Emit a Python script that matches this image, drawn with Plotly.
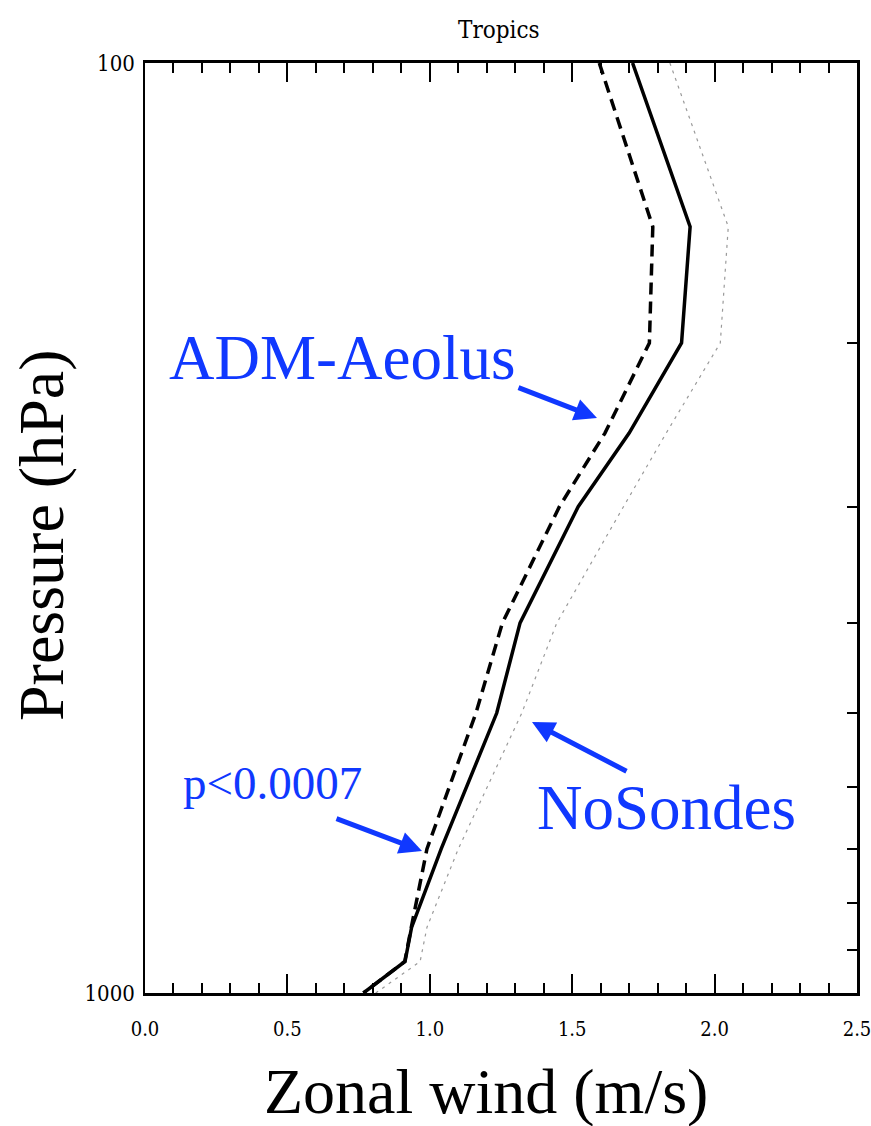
import plotly.graph_objects as go

# ---- data ----
pressure = [100, 150, 200, 250, 300, 400, 500, 700, 850, 925, 1000]
control = [1.712, 1.914, 1.884, 1.700, 1.521, 1.317, 1.235, 1.040, 0.936, 0.913, 0.767]
adm_aeolus = [1.595, 1.783, 1.771, 1.615, 1.455, 1.255, 1.162, 0.990, 0.935, 0.912, 0.767]
no_sondes = [1.843, 2.048, 2.020, 1.830, 1.680, 1.446, 1.323, 1.100, 0.990, 0.966, 0.810]

x_ticks = [0.0, 0.5, 1.0, 1.5, 2.0, 2.5]
x_ticklabels = ["0.0", "0.5", "1.0", "1.5", "2.0", "2.5"]
y_labels_vals = [100, 1000]
y_labels_text = ["100", "1000"]
y_right_ticks = [200, 300, 400, 500, 600, 700, 800, 900]

W, H = 871, 1126
L, R, T, B = 145, 14, 63, 133
PW, PH = W - L - R, H - T - B

def px(xp):
    return (xp - L) / PW

def py(yp):
    return (H - B - yp) / PH

SERIF = "Liberation Serif, Times New Roman, serif"
NARROW = "DejaVu Serif Condensed, Liberation Sans Narrow, Liberation Serif, serif"
BLUE = "#1038ff"

fig = go.Figure()
fig.add_trace(go.Scatter(x=no_sondes, y=pressure, mode="lines", yaxis="y2",
                         line=dict(color="#9a9a9a", width=1.2, dash="3px,5px"),
                         name="NoSondes", showlegend=False))
fig.add_trace(go.Scatter(x=control, y=pressure, mode="lines",
                         line=dict(color="black", width=3.5),
                         name="Control", showlegend=False))
fig.add_trace(go.Scatter(x=adm_aeolus, y=pressure, mode="lines",
                         line=dict(color="black", width=3.5, dash="12px,7px"),
                         name="ADM-Aeolus", showlegend=False))

fig.update_layout(
    width=W, height=H,
    margin=dict(l=L, r=R, t=T, b=B, autoexpand=False),
    paper_bgcolor="white", plot_bgcolor="white",
    xaxis=dict(range=[-1e-6, 2.5 + 1e-6], tickvals=x_ticks, ticktext=x_ticklabels,
               ticks="inside", ticklen=19, tickwidth=1.5, tickcolor="black",
               minor=dict(dtick=0.1, ticks="inside", ticklen=10, tickwidth=1.5,
                          tickcolor="black", showgrid=False),
               showline=True, linewidth=2.5, linecolor="black", mirror="ticks",
               showgrid=False, zeroline=False, ticklabeloverflow="allow",
               automargin=False,
               tickfont=dict(family=NARROW, size=20, color="black"),
               ticklabelstandoff=16),
    yaxis=dict(type="log", range=[3, 2], tickvals=y_labels_vals, ticktext=y_labels_text,
               ticks="", showline=True, linewidth=1.5, linecolor="black",
               showgrid=False, zeroline=False, ticklabeloverflow="allow",
               automargin=False,
               tickfont=dict(family=NARROW, size=22, color="black"),
               ticklabelstandoff=4),
    yaxis2=dict(type="log", range=[3, 2], overlaying="y", side="right",
                tickvals=y_right_ticks, ticks="inside", ticklen=10, tickwidth=1.5,
                tickcolor="black", showticklabels=False, showline=True,
                automargin=False,
                linewidth=2.5, linecolor="black", showgrid=False, zeroline=False),
)

annotations = [
    dict(text="Tropics", x=px(499), y=py(30), font=dict(family=NARROW, size=24, color="black")),
    dict(text="Zonal wind (m/s)", x=px(486), y=py(1091), font=dict(family=SERIF, size=64, color="black")),
    dict(text="Pressure (hPa)", x=px(41), y=py(536), textangle=-90,
         font=dict(family=SERIF, size=64, color="black")),
    dict(text="ADM-Aeolus", x=px(342), y=py(358), font=dict(family=SERIF, size=63, color=BLUE)),
    dict(text="NoSondes", x=px(666), y=py(808), font=dict(family=SERIF, size=63, color=BLUE)),
    dict(text="p<0.0007", x=px(272), y=py(783), font=dict(family=SERIF, size=47, color=BLUE)),
]
for a in annotations:
    a.update(xref="paper", yref="paper", showarrow=False, xanchor="center", yanchor="middle")
    fig.add_annotation(**a)

arrows = [
    ((597, 418), (517, 387)),
    ((532, 722), (628, 772)),
    ((422, 851), (335, 818)),
]
for (tip, tail) in arrows:
    fig.add_annotation(xref="paper", yref="paper", x=px(tip[0]), y=py(tip[1]),
                       ax=tail[0] - tip[0], ay=tail[1] - tip[1], text="",
                       showarrow=True, arrowhead=2, arrowsize=0.9, arrowwidth=5,
                       arrowcolor=BLUE, standoff=0)

fig.write_html("out.html", config={"displayModeBar": False},
               post_script="document.body.style.margin='0';document.body.style.overflow='hidden';")
